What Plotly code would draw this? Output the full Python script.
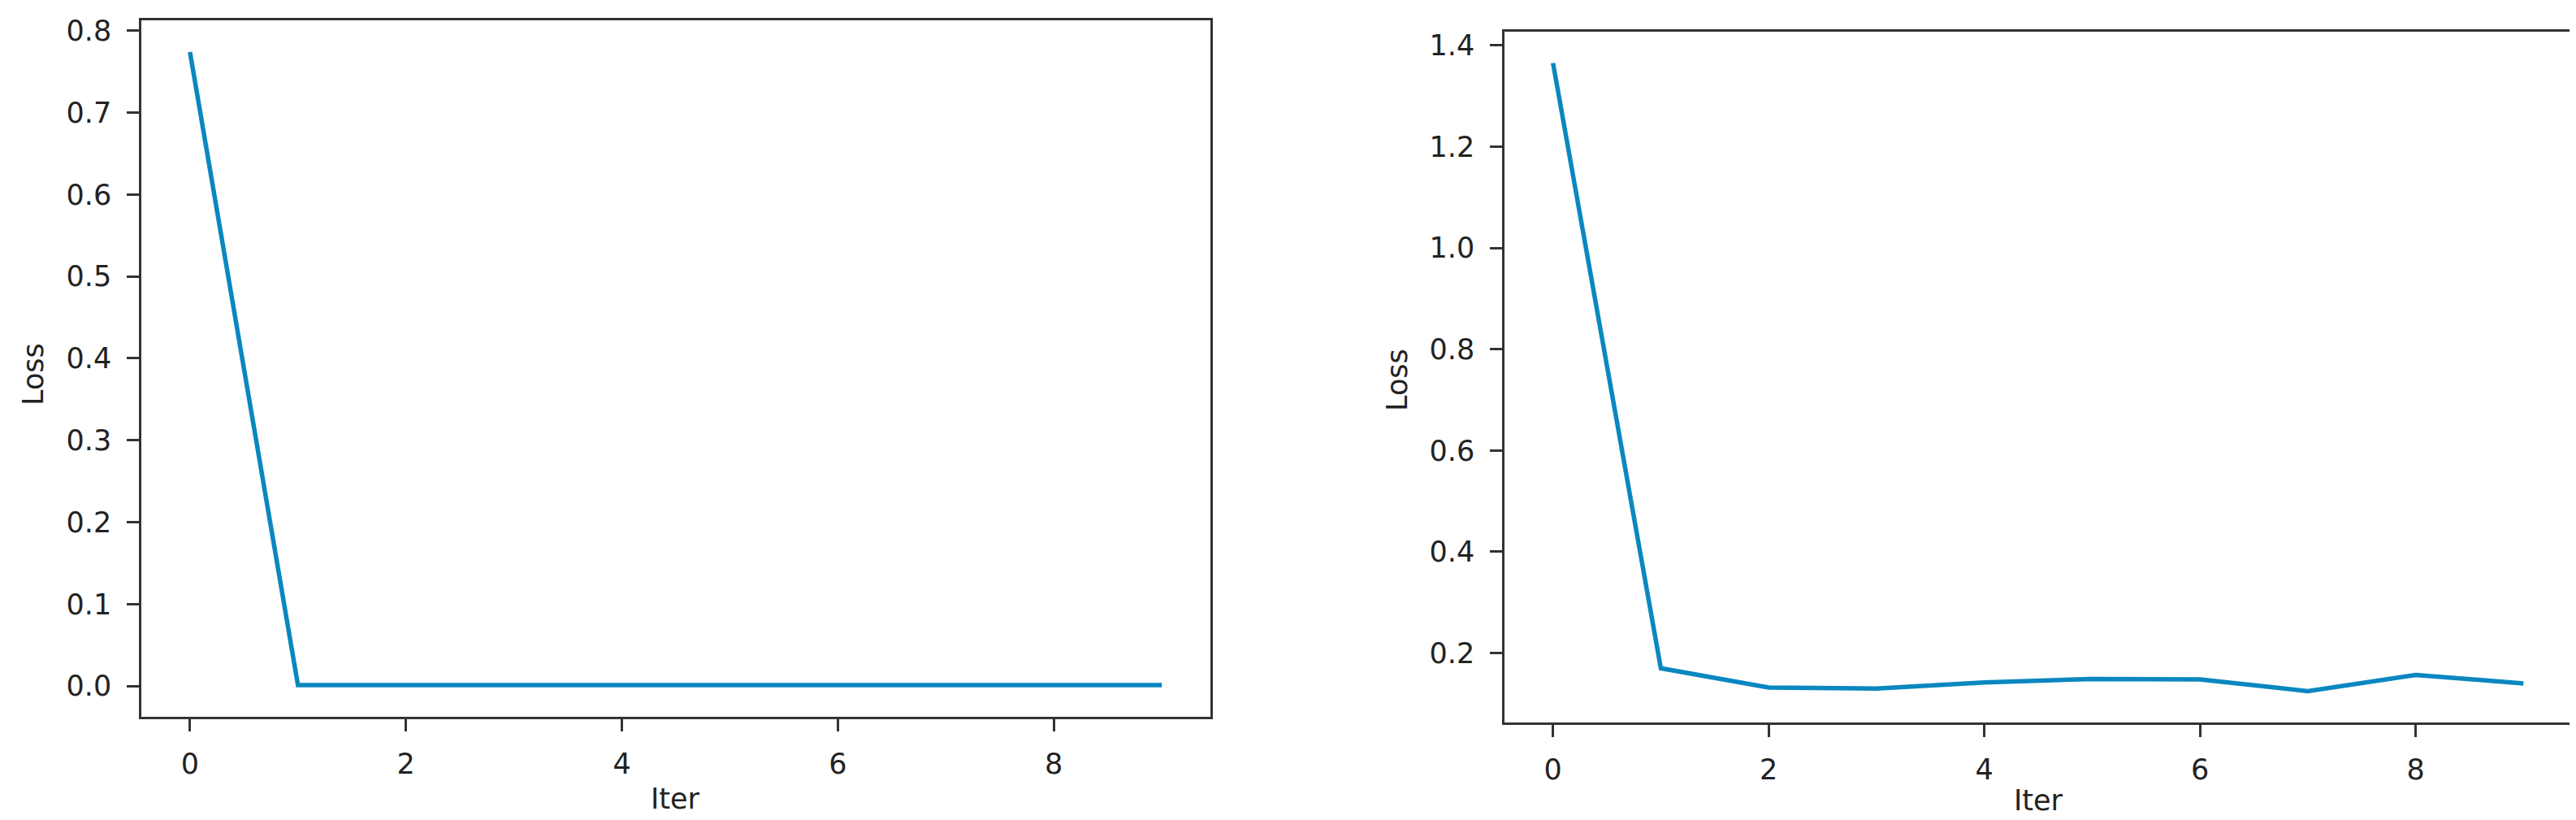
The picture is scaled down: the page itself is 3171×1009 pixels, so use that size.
import plotly.graph_objects as go

# ---- data ----
iters = [0, 1, 2, 3, 4, 5, 6, 7, 8, 9]
loss_left = [0.774, 0.001, 0.001, 0.001, 0.001, 0.001, 0.001, 0.001, 0.001, 0.001]
loss_right = [1.365, 0.170, 0.132, 0.130, 0.142, 0.149, 0.148, 0.125, 0.157, 0.140]
x_ticks = [0, 2, 4, 6, 8]
x_label = "Iter"
y_label = "Loss"

W, H = 3171, 1009
LINE_COLOR = "#0a87c0"
AX_COLOR = "#333333"
FONT = "DejaVu Sans"
FS = 35


def mrange(vals, m=0.05):
    lo, hi = min(vals), max(vals)
    r = hi - lo
    return [lo - m * r, hi + m * r]


fig = go.Figure()
fig.add_trace(go.Scatter(x=iters, y=loss_left, mode="lines",
                         line=dict(color=LINE_COLOR, width=5.5),
                         xaxis="x", yaxis="y", showlegend=False))
fig.add_trace(go.Scatter(x=iters, y=loss_right, mode="lines",
                         line=dict(color=LINE_COLOR, width=5.5),
                         xaxis="x2", yaxis="y2", showlegend=False))

common = dict(showline=True, linecolor=AX_COLOR, linewidth=2.5, mirror=True,
              ticks="outside", ticklen=15, tickwidth=2.5, tickcolor=AX_COLOR,
              showgrid=False, zeroline=False, automargin=False,
              tickfont=dict(family=FONT, size=FS, color="#222222"))

L = (166, 1482, 17, 874)
R = (1844, 3158, 31, 881)


def xdom(b):
    return [b[0] / W, b[1] / W]


def ydom(b):
    return [1 - b[3] / H, 1 - b[2] / H]


fig.update_layout(
    width=W, height=H,
    margin=dict(l=0, r=0, t=0, b=0, autoexpand=False),
    paper_bgcolor="white", plot_bgcolor="white",
    font=dict(family=FONT, size=FS, color="#222222"),
    xaxis=dict(domain=xdom(L), range=mrange(iters), tickvals=x_ticks,
               anchor="y", ticklabelstandoff=10, **common),
    yaxis=dict(domain=ydom(L), range=mrange(loss_left), dtick=0.1, tick0=0,
               tickformat=".1f", anchor="x", ticklabelstandoff=12, **common),
    xaxis2=dict(domain=xdom(R), range=mrange(iters), tickvals=x_ticks,
                anchor="y2", ticklabelstandoff=10, **common),
    yaxis2=dict(domain=ydom(R), range=mrange(loss_right), dtick=0.2, tick0=0,
                tickformat=".1f", anchor="x2", ticklabelstandoff=12, **common),
)

annots = [
    dict(text=y_label, x=33 / W, y=1 - 453 / H, textangle=-90),
    dict(text=y_label, x=1712 / W, y=1 - 460 / H, textangle=-90),
    dict(text=x_label, x=(L[0] + L[1]) / 2 / W, y=1 - 975 / H),
    dict(text=x_label, x=(R[0] + R[1]) / 2 / W, y=1 - 977 / H),
]
for a in annots:
    fig.add_annotation(xref="paper", yref="paper", showarrow=False,
                       xanchor="center", yanchor="middle",
                       font=dict(family=FONT, size=FS, color="#222222"), **a)

fig.write_html("out.html")
